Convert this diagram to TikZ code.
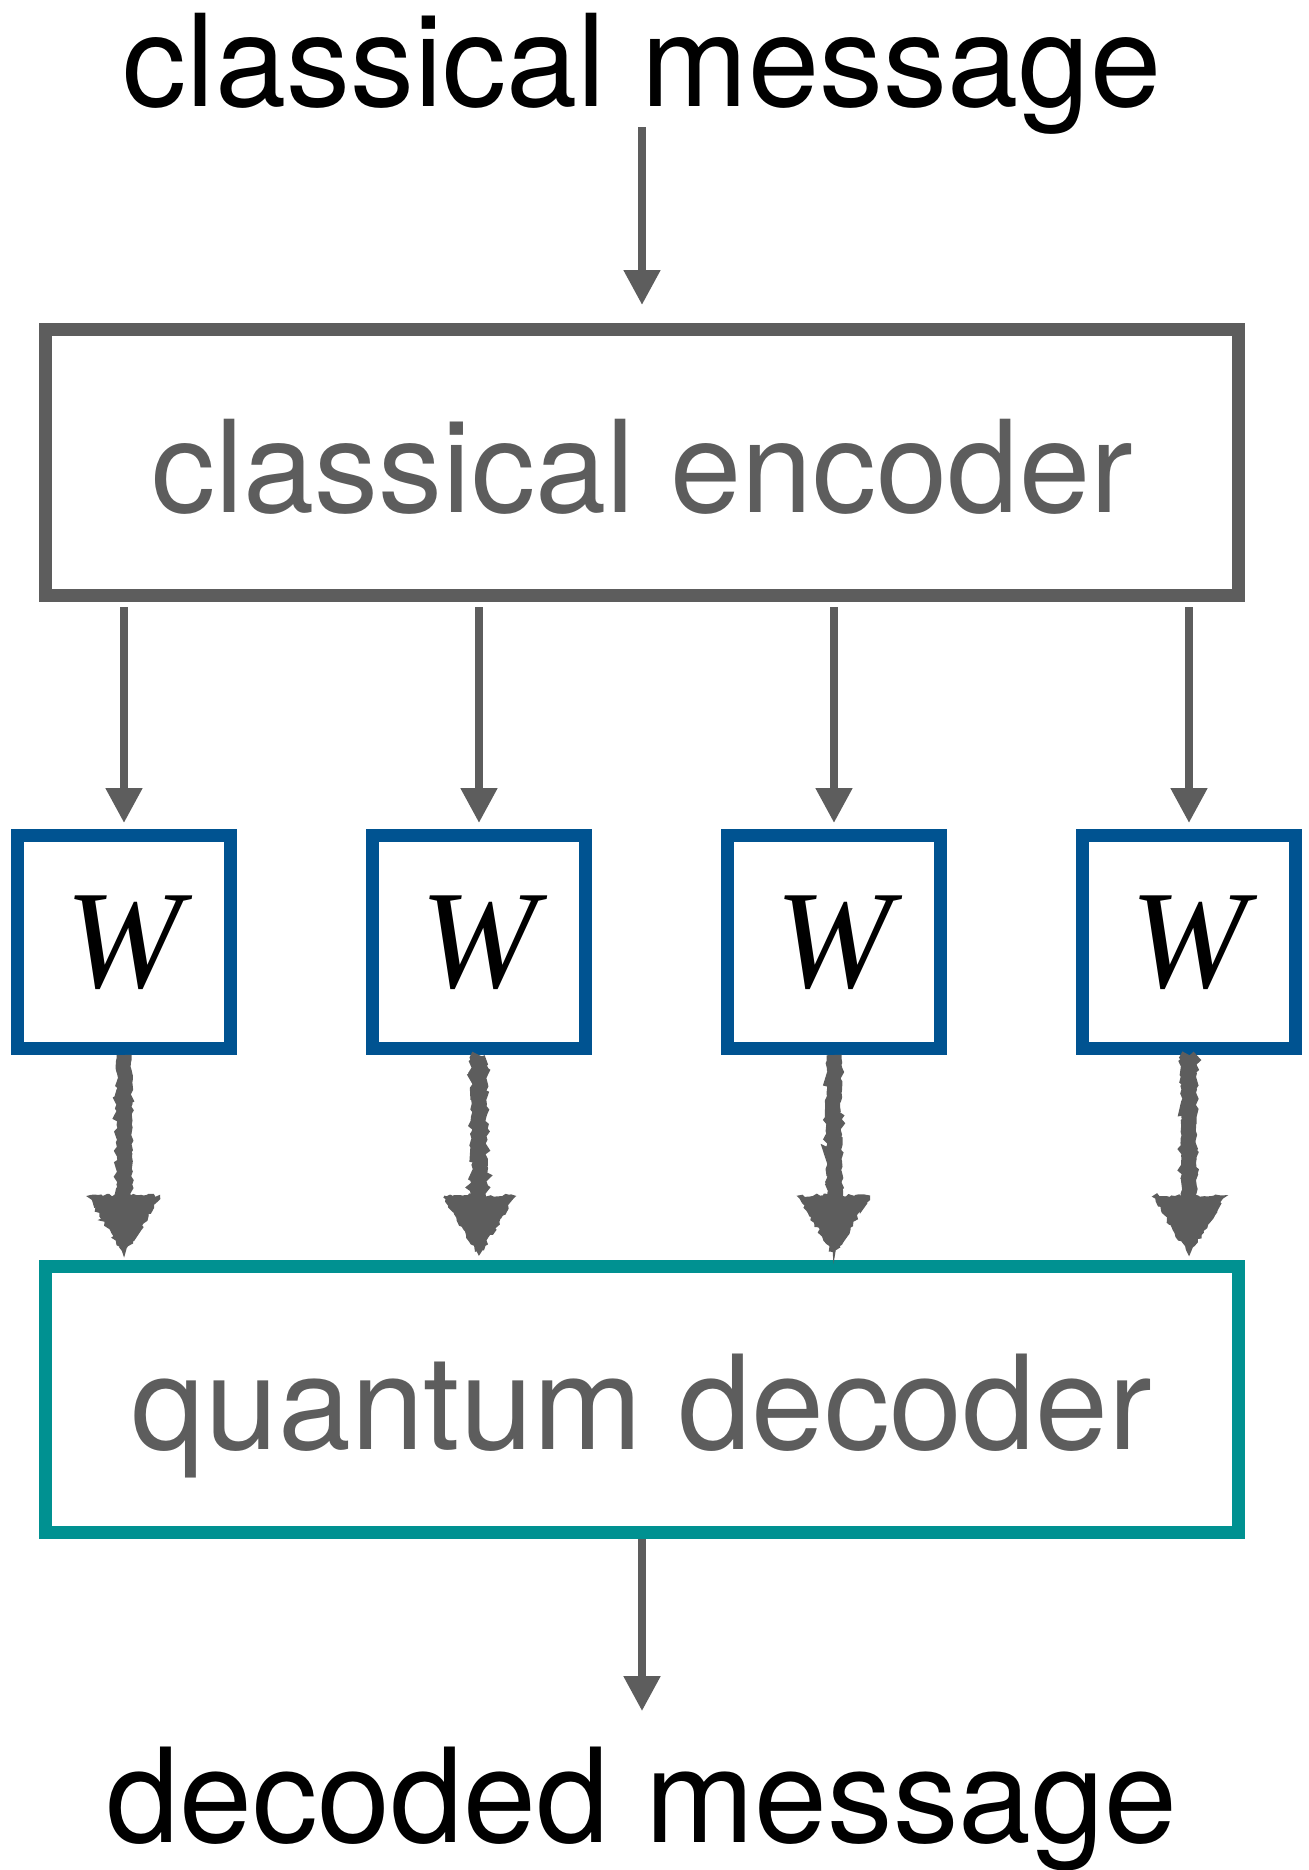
\documentclass[tikz,border=0pt]{standalone}
\usepackage{fontspec}
\setmainfont{TeX Gyre Heros}
\newfontfamily\wfont{Liberation Serif}
\usepackage{xcolor}
\usepackage{tikz}
\usetikzlibrary{arrows.meta}
\usetikzlibrary{decorations.pathmorphing}

\definecolor{boxgray}{RGB}{93,93,93}
\definecolor{wblue}{RGB}{0,83,145}
\definecolor{qteal}{RGB}{0,145,145}

\begin{document}
\begin{tikzpicture}[x=0.5pt,y=-0.5pt,
    lbl/.style={font=\fontsize{64}{70}\selectfont,inner sep=0pt},
    bigbox/.style={draw=boxgray,line width=6.5pt,minimum width=596.5pt,minimum height=133pt,inner sep=0pt,text=boxgray,font=\fontsize{64}{70}\selectfont,text height=50pt,text depth=0pt},
    wbox/.style={draw=wblue,line width=6.5pt,minimum size=106.5pt,inner sep=0pt,font=\fontsize{70}{72}\selectfont\wfont\itshape,text depth=0pt},
    cl/.style={draw=boxgray,line width=4pt,-{Triangle[width=17.5pt,length=17.5pt]}},
    chalk/.style={boxgray,decorate,decoration={random steps,segment length=1.5pt,amplitude=0.9pt}}]
    \pgfmathsetseed{11}
    \useasboundingbox (0,0) rectangle (1308,1870);
    \node[lbl,anchor=base] (cm) at (642,106) {classical message};
    \node[bigbox] (ce) at (642,462.5) {classical encoder};
    \node[wbox] (w1) at (124,942) {W};
    \node[wbox] (w2) at (479,942) {W};
    \node[wbox] (w3) at (834,942) {W};
    \node[wbox] (w4) at (1189,942) {W};
    \node[bigbox,draw=qteal,font=\fontsize{65.5}{70}\selectfont] (qd) at (642,1399.5) {quantum decoder};
    \node[lbl,anchor=base,font=\fontsize{65.5}{70}\selectfont] (dm) at (642,1842) {decoded message};
    \draw[cl,shorten <=-3.5pt,shorten >=9pt] (cm.south) -- (ce.north);
    \draw[cl,shorten <=2.5pt,shorten >=3pt] (ce.south -| w1) -- (w1.north);
    \draw[cl,shorten <=2.5pt,shorten >=3pt] (ce.south -| w2) -- (w2.north);
    \draw[cl,shorten <=2.5pt,shorten >=3pt] (ce.south -| w3) -- (w3.north);
    \draw[cl,shorten <=2.5pt,shorten >=3pt] (ce.south -| w4) -- (w4.north);
    % hand-drawn looking arrows into the decoder
    \draw[chalk,line width=7.5pt] (w1.south) -- ([yshift=30pt]qd.north -| w1);
    \filldraw[chalk,line width=1.2pt] ([yshift=3.25pt]qd.north -| w1) -- ++(-35,-57) -- ++(70,0) -- cycle;
    \draw[chalk,line width=7.5pt] (w2.south) -- ([yshift=30pt]qd.north -| w2);
    \filldraw[chalk,line width=1.2pt] ([yshift=3.25pt]qd.north -| w2) -- ++(-35,-57) -- ++(70,0) -- cycle;
    \draw[chalk,line width=7.5pt] (w3.south) -- ([yshift=30pt]qd.north -| w3);
    \filldraw[chalk,line width=1.2pt] ([yshift=3.25pt]qd.north -| w3) -- ++(-35,-57) -- ++(70,0) -- cycle;
    \draw[chalk,line width=7.5pt] (w4.south) -- ([yshift=30pt]qd.north -| w4);
    \filldraw[chalk,line width=1.2pt] ([yshift=3.25pt]qd.north -| w4) -- ++(-35,-57) -- ++(70,0) -- cycle;
    \draw[cl,shorten <=0pt,shorten >=17.5pt] (qd.south) -- (dm.north);
\end{tikzpicture}
\end{document}
